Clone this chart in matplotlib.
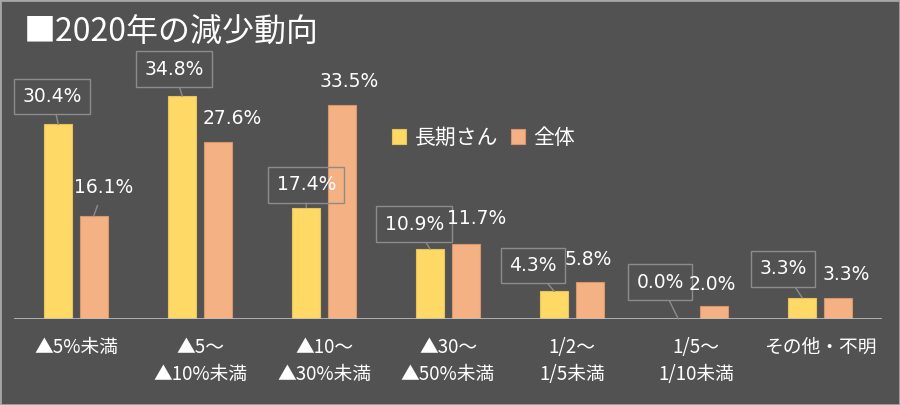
import matplotlib
matplotlib.use("Agg")
import matplotlib.pyplot as plt
import numpy as np
from matplotlib.patches import Rectangle

plt.rcParams['font.family'] = ['Noto Sans CJK JP', 'DejaVu Sans']

# データ
categories = ['▲5%未満', '▲5～\n▲10%未満', '▲10～\n▲30%未満', '▲30～\n▲50%未満',
              '1/2～\n1/5未満', '1/5～\n1/10未満', 'その他・不明']
long_term = [30.4, 34.8, 17.4, 10.9, 4.3, 0.0, 3.3]   # 長期さん
overall = [16.1, 27.6, 33.5, 11.7, 5.8, 2.0, 3.3]     # 全体
series_names = ['長期さん', '全体']

# ラベル位置 (バー上端からのずれ, pixel)
long_offsets = [(-6, 28), (-8, 27), (0, 23), (-16, 25), (-21, 26), (-18, 37), (-19, 29)]
all_offsets = [(10, 28), (15, 24), (7, 23), (11, 26), (-1, 22), (-1, 22), (9, 23)]

BG = '#525252'
YELLOW = '#FFD966'
SALMON = '#F4B183'
GRAY = '#8C8C8C'

fig = plt.figure(figsize=(9, 4.05), dpi=100, facecolor=BG)
ax = fig.add_axes([14 / 900, 86 / 405, 868 / 900, 256 / 405])
ax.set_facecolor(BG)

x = np.arange(len(categories))
w = 0.225
off = 0.143
ax.bar(x - off, long_term, w, color=YELLOW, edgecolor='#E8C35A', linewidth=0.8,
       label=series_names[0])
ax.bar(x + off, overall, w, color=SALMON, edgecolor='#D9966E', linewidth=0.8,
       label=series_names[1])

ax.set_xlim(-0.5, len(categories) - 0.5)
ax.set_ylim(0, 40)
ax.axhline(0, color='#BFBFBF', linewidth=1.2)
for s in ax.spines.values():
    s.set_visible(False)
ax.set_yticks([])
ax.set_xticks(x)
ax.set_xticklabels(categories, color='white', fontsize=13.5, linespacing=1.35, va='top')
ax.tick_params(axis='x', length=0, pad=13)

num_font = ['DejaVu Sans', 'Noto Sans CJK JP']

for i, v in enumerate(long_term):
    ax.annotate(f'{v:.1f}%', xy=(x[i] - off, v), xytext=long_offsets[i],
                textcoords='offset pixels', ha='center', va='center',
                fontsize=13.5, color='white', family=num_font,
                bbox=dict(boxstyle='square,pad=0.45', fc='none', ec=GRAY, lw=1),
                arrowprops=dict(arrowstyle='-', color=GRAY, lw=1,
                                shrinkA=0, shrinkB=0))

for i, v in enumerate(overall):
    props = None
    if i == 0:
        props = dict(arrowstyle='-', color=GRAY, lw=1, shrinkA=4, shrinkB=0)
    ax.annotate(f'{v:.1f}%', xy=(x[i] + off, v), xytext=all_offsets[i],
                textcoords='offset pixels', ha='center', va='center',
                fontsize=13.5, color='white', family=num_font,
                arrowprops=props)

leg = ax.legend(loc='upper left', bbox_to_anchor=(359 / 868, (319 - 108) / 256),
                frameon=False, ncol=2, fontsize=15, handlelength=0.7,
                handleheight=0.7, handletextpad=0.4, columnspacing=0.6)
for t in leg.get_texts():
    t.set_color('white')

fig.text(24 / 900, 1 - 33 / 405, '■2020年の減少動向', color='white', fontsize=23,
         ha='left', va='center')

fig.patches.append(Rectangle((0, 0), 1, 1, transform=fig.transFigure, fill=False,
                             edgecolor='#A6A6A6', linewidth=2))

fig.savefig('out.png', dpi=100, facecolor=BG)
